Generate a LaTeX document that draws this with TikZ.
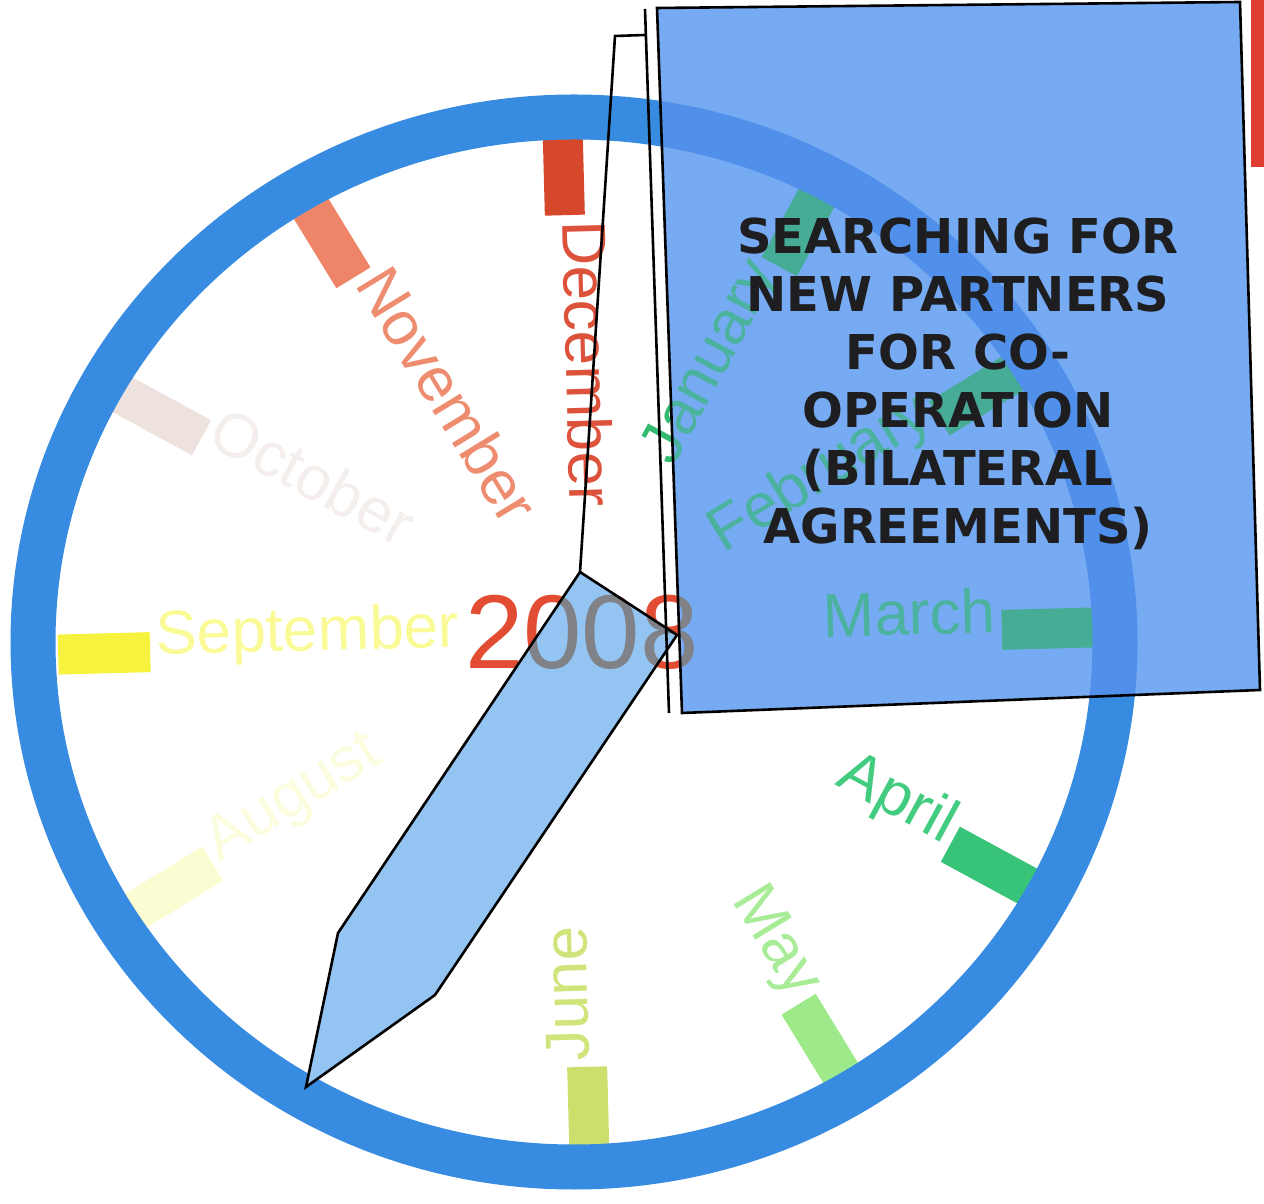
\documentclass[tikz,border=0pt]{standalone}
\usepackage{fontspec}
\setmainfont{Liberation Sans}
\newfontfamily\boxfont{DejaVu Sans}
\usetikzlibrary{calc}
\definecolor{ringblue}{RGB}{55,140,225}
\definecolor{ringin}{RGB}{80,144,234}
\definecolor{boxblue}{RGB}{118,170,242}
\definecolor{handblue}{RGB}{148,196,242}
\definecolor{yearred}{RGB}{226,76,50}
\definecolor{yeargrey}{RGB}{128,130,136}
\definecolor{boxtext}{RGB}{30,30,32}
\definecolor{barred}{RGB}{222,62,50}
\definecolor{teal}{RGB}{70,172,150}
\definecolor{tealtext}{RGB}{76,178,160}
\definecolor{decT}{RGB}{214,72,44}\definecolor{decL}{RGB}{220,82,58}
\definecolor{novT}{RGB}{238,132,104}\definecolor{novL}{RGB}{238,140,112}
\definecolor{octT}{RGB}{238,226,222}\definecolor{octL}{RGB}{244,238,236}
\definecolor{sepT}{RGB}{246,242,62}\definecolor{sepL}{RGB}{250,250,150}
\definecolor{augT}{RGB}{252,252,210}\definecolor{augL}{RGB}{252,252,222}
\definecolor{junT}{RGB}{204,222,108}\definecolor{junL}{RGB}{208,228,124}
\definecolor{mayT}{RGB}{158,234,138}\definecolor{mayL}{RGB}{168,236,152}
\definecolor{aprT}{RGB}{56,196,120}\definecolor{aprL}{RGB}{66,204,128}
\definecolor{grnT}{RGB}{50,186,112}
% month with label read from tick toward centre
\newcommand\mymonthL[5]{%
  \node[tickbox, fill=#3, rotate=#2] (#1tick) at ($(C)+(#2:472)$) {};
  \node[monthlabel, text=#4, rotate=#2+180, anchor=mid west] (#1lab) at ($(C)+(#2:420)$) {#5};}
% month with label read from centre toward tick
\newcommand\mymonthR[5]{%
  \node[tickbox, fill=#3, rotate=#2] (#1tick) at ($(C)+(#2:472)$) {};
  \node[monthlabel, text=#4, rotate=#2, anchor=mid east] (#1lab) at ($(C)+(#2:420)$) {#5};}
\begin{document}
\begin{tikzpicture}[x=1pt,y=1pt,
  tickbox/.style={draw=none, inner sep=0pt, minimum width=92pt, minimum height=40pt},
  monthlabel/.style={inner sep=0pt, font=\fontsize{62}{62}\selectfont},
  yearlabel/.style={inner sep=0pt, font=\fontsize{105}{105}\selectfont},
  ring/.style={line width=45pt},
  outline/.style={draw=black, line width=2.6pt, line join=miter},
]
\useasboundingbox (0,0) rectangle (1264,1203);
\coordinate (C) at (576,562);
\coordinate (RC) at (574,561);
% months
\mymonthL{dec}{91.5}{decT}{decL}{December}
\mymonthL{nov}{121.5}{novT}{novL}{November}
\mymonthL{oct}{151.5}{octT}{octL}{October}
\mymonthL{sep}{181.5}{sepT}{sepL}{September}
\mymonthL{aug}{211.5}{augT}{augL}{August}
\mymonthL{jun}{271.5}{junT}{junL}{June}
\mymonthR{may}{-58.5}{mayT}{mayL}{May}
\mymonthR{apr}{-28.5}{aprT}{aprL}{April}
\mymonthR{mar}{1.5}{grnT}{grnT}{March}
\mymonthR{feb}{31.5}{grnT}{grnT}{February}
\mymonthR{jan}{61.5}{grnT}{grnT}{January}
\node[yearlabel, text=yearred] (year) at (582,571) {2008};
% ring
\draw[ring, ringblue] (RC) ellipse [x radius=541pt, y radius=525pt];
% box
\coordinate (b1) at (657,1195);
\coordinate (b2) at (1240,1201);
\coordinate (b3) at (1260,513);
\coordinate (b4) at (682,490);
\begin{scope}
  \clip (b1) -- (b2) -- (b3) -- (b4) -- cycle;
  \fill[boxblue] (b1) -- (b2) -- (b3) -- (b4) -- cycle;
  \mymonthR{marI}{1.5}{teal}{tealtext}{March}
  \mymonthR{febI}{31.5}{teal}{tealtext}{February}
  \mymonthR{janI}{61.5}{teal}{tealtext}{January}
  \node[yearlabel, text=yeargrey] (yearI) at (582,571) {2008};
  \draw[ring, ringin] (RC) ellipse [x radius=541pt, y radius=525pt];
\end{scope}
\draw[outline] (b1) -- (b2) -- (b3) -- (b4) -- cycle;
\node[font=\boxfont\bfseries\fontsize{48}{58}\selectfont, text=boxtext, align=center, inner sep=0pt] (msg) at (958,819)
  {SEARCHING FOR\\NEW PARTNERS\\FOR CO-\\OPERATION\\(BILATERAL\\AGREEMENTS)};
% hour hand
\coordinate (h1) at (580,631);
\coordinate (h2) at (677,568);
\coordinate (h3) at (435,208);
\coordinate (h4) at (306,116);
\coordinate (h5) at (338,270);
\begin{scope}
  \clip (h1) -- (h2) -- (h3) -- (h4) -- (h5) -- cycle;
  \fill[handblue] (h1) -- (h2) -- (h3) -- (h4) -- (h5) -- cycle;
  \node[yearlabel, text=yeargrey] (yearH) at (582,571) {2008};
\end{scope}
\draw[outline] (h1) -- (h2) -- (h3) -- (h4) -- (h5) -- cycle;
% minute hand and long line
\coordinate (m1) at (615,1167);
\coordinate (m2) at (645,1168);
\coordinate (l1) at (645,1194);
\coordinate (l2) at (669,490);
\draw[outline] (h1) -- (m1) -- (m2);
\draw[outline] (l1) -- (l2);
% red bar at right edge
\fill[barred] (1251,1036) rectangle (1264,1203);
\end{tikzpicture}
\end{document}
